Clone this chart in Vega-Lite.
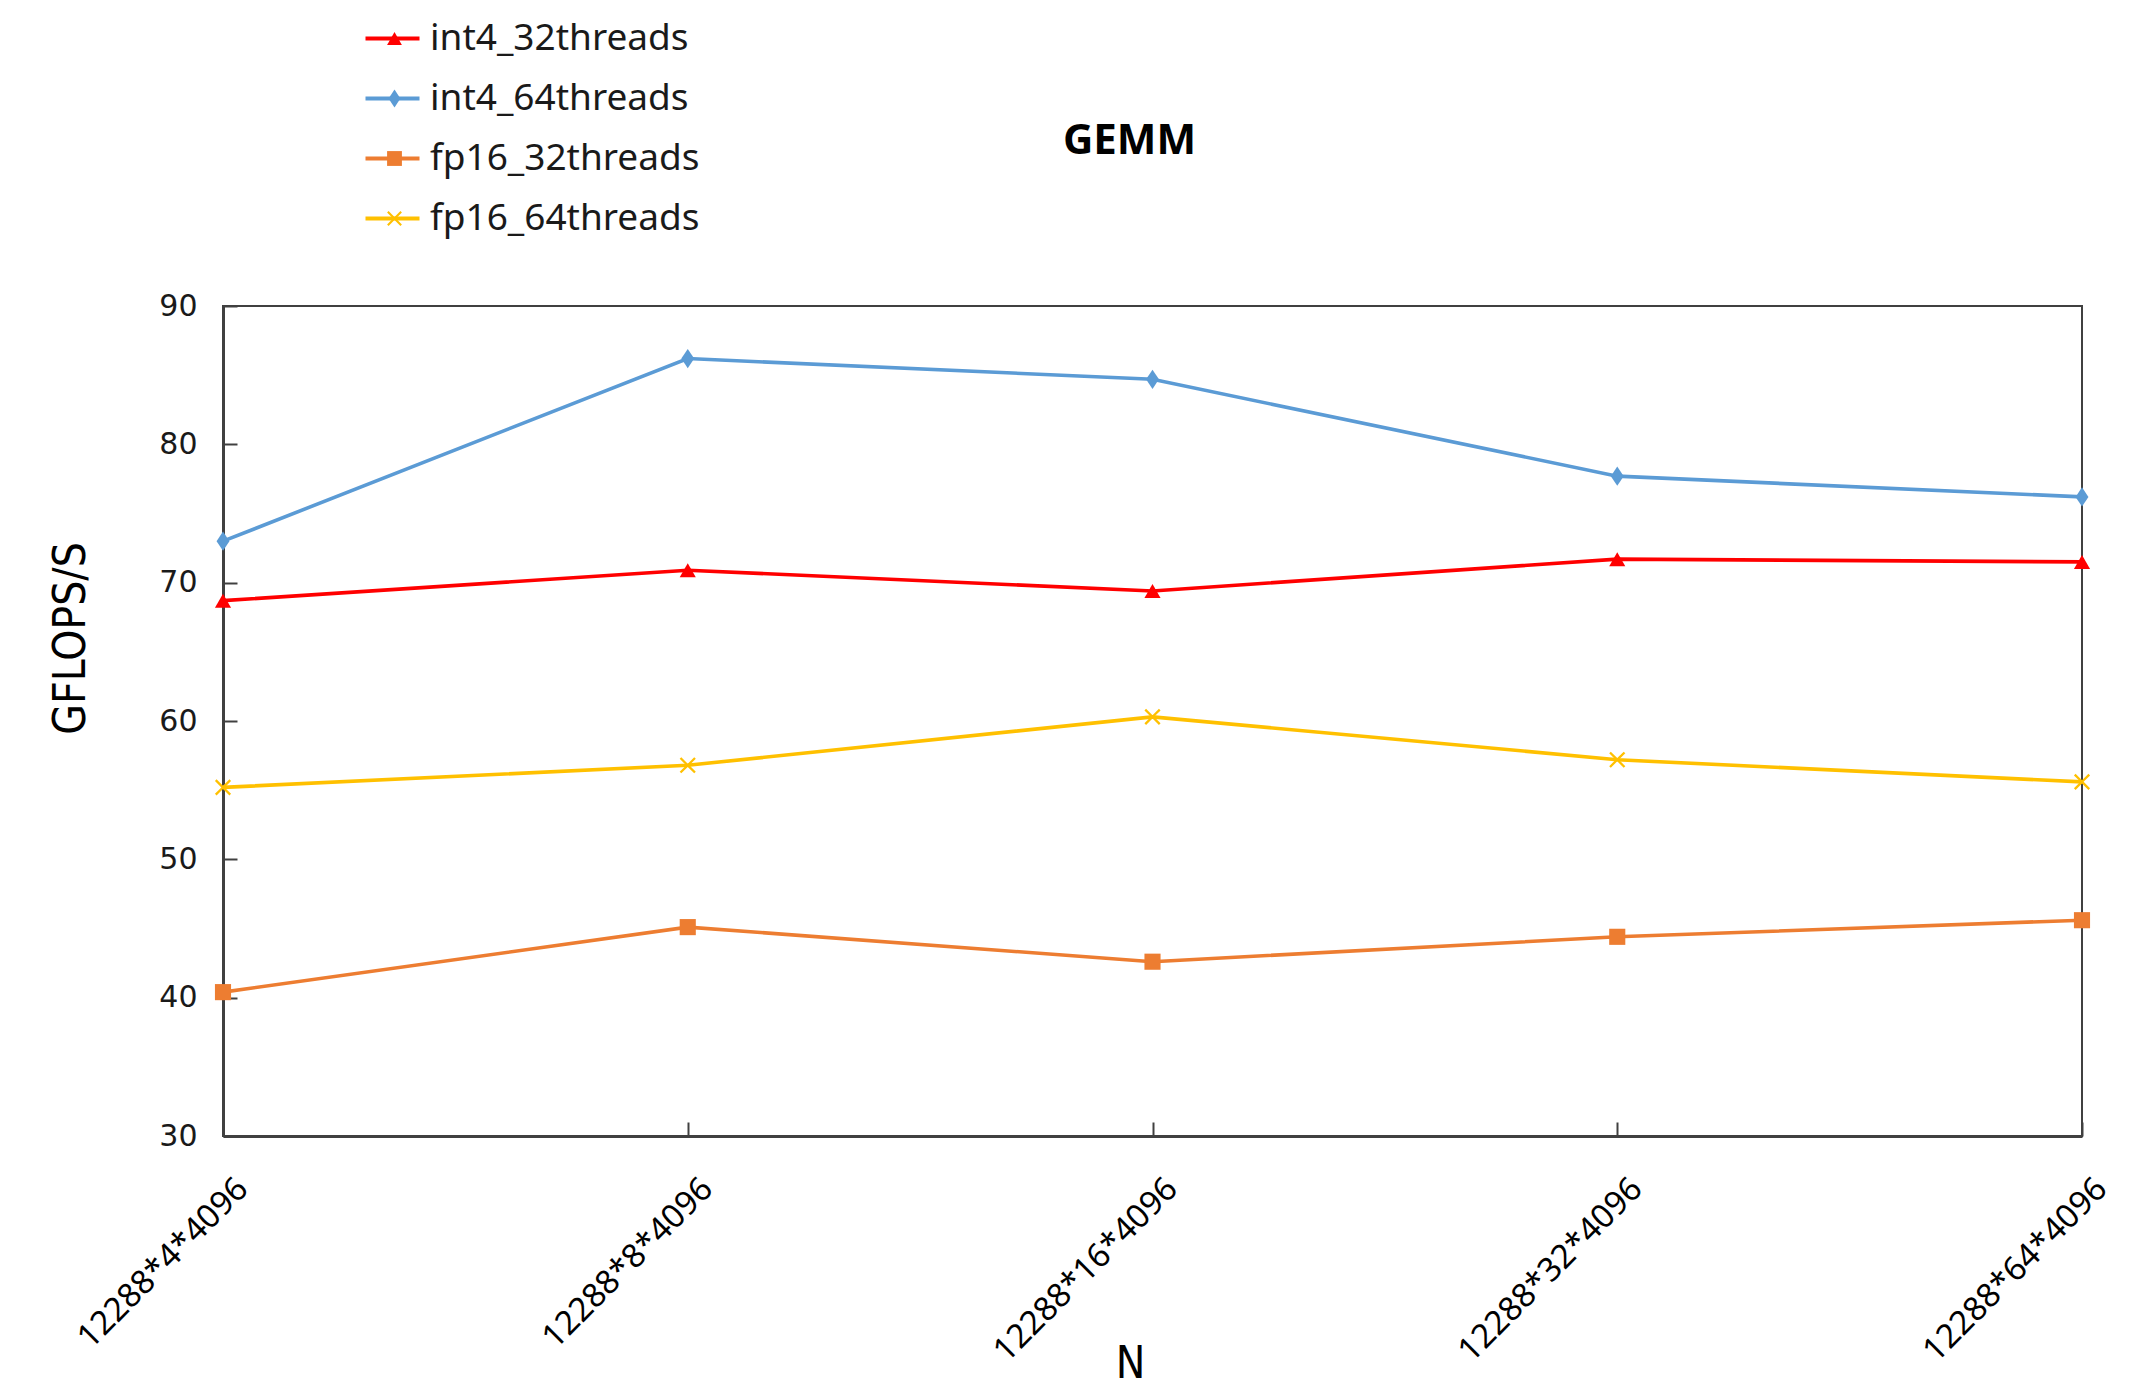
{
  "$schema": "https://vega.github.io/schema/vega-lite/v6.json",
  "width": 1859,
  "height": 830,
  "autosize": {"type": "none"},
  "padding": {"left": 223, "top": 306, "right": 50, "bottom": 257},
  "background": "white",
  "title": {"text": "GEMM", "fontSize": 42, "fontWeight": "bold", "font": "Noto Sans", "color": "#000000", "anchor": "middle", "offset": 0, "dy": 143, "dx": -23},
  "config": {"view": {"stroke": "#404040", "strokeWidth": 2}, "axis": {"grid": false}},
  "data": {"values": [
    {"N": "12288*4*4096", "series": "int4_32threads", "GFLOPS": 68.7},
    {"N": "12288*8*4096", "series": "int4_32threads", "GFLOPS": 70.9},
    {"N": "12288*16*4096", "series": "int4_32threads", "GFLOPS": 69.4},
    {"N": "12288*32*4096", "series": "int4_32threads", "GFLOPS": 71.7},
    {"N": "12288*64*4096", "series": "int4_32threads", "GFLOPS": 71.5},
    {"N": "12288*4*4096", "series": "int4_64threads", "GFLOPS": 73.0},
    {"N": "12288*8*4096", "series": "int4_64threads", "GFLOPS": 86.2},
    {"N": "12288*16*4096", "series": "int4_64threads", "GFLOPS": 84.7},
    {"N": "12288*32*4096", "series": "int4_64threads", "GFLOPS": 77.7},
    {"N": "12288*64*4096", "series": "int4_64threads", "GFLOPS": 76.2},
    {"N": "12288*4*4096", "series": "fp16_32threads", "GFLOPS": 40.4},
    {"N": "12288*8*4096", "series": "fp16_32threads", "GFLOPS": 45.1},
    {"N": "12288*16*4096", "series": "fp16_32threads", "GFLOPS": 42.6},
    {"N": "12288*32*4096", "series": "fp16_32threads", "GFLOPS": 44.4},
    {"N": "12288*64*4096", "series": "fp16_32threads", "GFLOPS": 45.6},
    {"N": "12288*4*4096", "series": "fp16_64threads", "GFLOPS": 55.2},
    {"N": "12288*8*4096", "series": "fp16_64threads", "GFLOPS": 56.8},
    {"N": "12288*16*4096", "series": "fp16_64threads", "GFLOPS": 60.3},
    {"N": "12288*32*4096", "series": "fp16_64threads", "GFLOPS": 57.2},
    {"N": "12288*64*4096", "series": "fp16_64threads", "GFLOPS": 55.6}
  ]},
  "encoding": {
    "x": {
      "field": "N", "type": "ordinal",
      "sort": ["12288*4*4096", "12288*8*4096", "12288*16*4096", "12288*32*4096", "12288*64*4096"],
      "scale": {"type": "point", "padding": 0},
      "axis": {
        "title": "N", "titleFont": "DejaVu Sans Condensed", "titleFontSize": 44, "titleFontWeight": "normal", "titleColor": "#000000",
        "titleX": 907, "titleY": 228, "titleBaseline": "middle", "titleAlign": "center",
        "labelAngle": -45, "labelFont": "Noto Sans", "labelFontSize": 33, "labelColor": "#000000", "labelPadding": 50, "labelOffset": 8, "labelLimit": 500,
        "tickSize": -14, "tickColor": "#404040", "tickWidth": 2,
        "domainColor": "#404040", "domainWidth": 3
      }
    },
    "y": {
      "field": "GFLOPS", "type": "quantitative",
      "scale": {"domain": [30, 90], "nice": false, "zero": false},
      "axis": {
        "values": [30, 40, 50, 60, 70, 80, 90],
        "title": "GFLOPS/S", "titleFont": "DejaVu Sans Condensed", "titleFontSize": 44, "titleFontWeight": "normal", "titleColor": "#000000",
        "titleX": -152, "titleY": 332, "titleBaseline": "middle", "titleAlign": "center", "titleAngle": -90,
        "labelFont": "DejaVu Sans", "labelFontSize": 30, "labelColor": "#1a1a1a", "labelPadding": 40,
        "tickSize": -14, "tickColor": "#404040", "tickWidth": 2,
        "domainColor": "#404040", "domainWidth": 3
      }
    }
  },
  "layer": [
    {
      "mark": {"type": "line", "strokeWidth": 3.6},
      "encoding": {
        "stroke": {
          "field": "series", "type": "nominal",
          "sort": ["int4_32threads", "int4_64threads", "fp16_32threads", "fp16_64threads"],
          "scale": {"range": ["#FF0000", "#5B9BD5", "#ED7D31", "#FFC000"]},
          "legend": {
            "title": null, "orient": "none", "legendX": 151, "legendY": -286, "padding": 0,
            "symbolType": "M-3,0L3,0", "symbolSize": 324, "symbolStrokeWidth": 4,
            "labelFont": "Noto Sans", "labelFontSize": 37, "labelColor": "#1a1a1a", "labelOffset": 19,
            "rowPadding": 22, "labelLimit": 600
          }
        }
      }
    },
    {
      "mark": {"type": "point", "filled": true, "size": 260, "opacity": 1},
      "encoding": {
        "fill": {
          "field": "series", "type": "nominal",
          "scale": {"domain": ["int4_32threads", "int4_64threads", "fp16_32threads", "fp16_64threads"], "range": ["#FF0000", "#5B9BD5", "#ED7D31", "#FFC000"]},
          "legend": {
            "title": null, "orient": "none", "legendX": 153, "legendY": -286, "padding": 0,
            "symbolSize": 220,
            "labelFont": "Noto Sans", "labelFontSize": 37, "labelOpacity": 0, "labelOffset": 19,
            "rowPadding": 22, "labelLimit": 600
          }
        },
        "shape": {
          "field": "series", "type": "nominal",
          "scale": {"domain": ["int4_32threads", "int4_64threads", "fp16_32threads", "fp16_64threads"], "range": ["triangle-up", "M0,-1.2L0.8,0L0,1.2L-0.8,0Z", "square", "M-1,-0.8L-0.8,-1L0,-0.2L0.8,-1L1,-0.8L0.2,0L1,0.8L0.8,1L0,0.2L-0.8,1L-1,0.8L-0.2,0Z"]},
          "legend": {
            "title": null, "orient": "none", "legendX": 153, "legendY": -286, "padding": 0,
            "symbolSize": 220,
            "labelFont": "Noto Sans", "labelFontSize": 37, "labelOpacity": 0, "labelOffset": 19,
            "rowPadding": 22, "labelLimit": 600
          }
        }
      }
    }
  ]
}
